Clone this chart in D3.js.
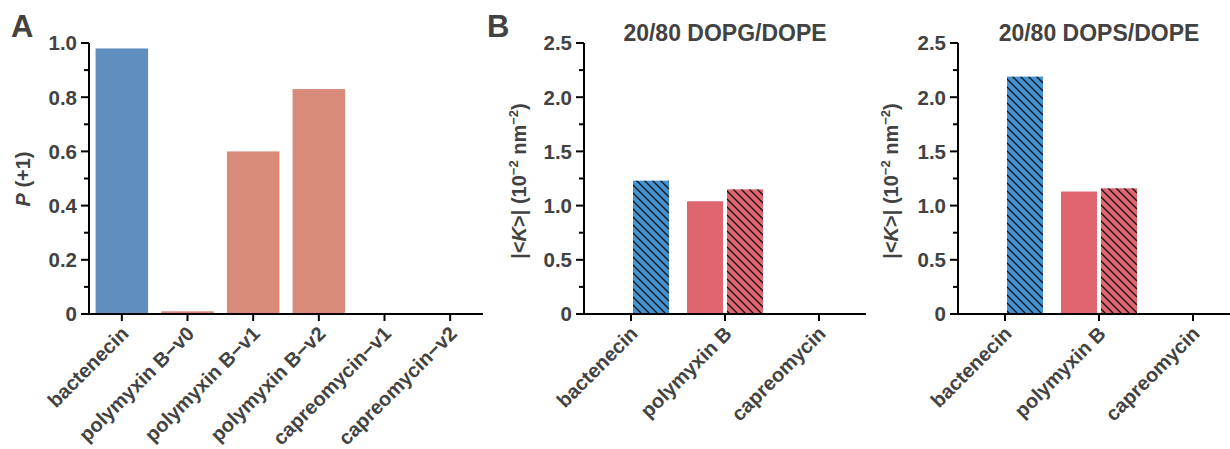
<!DOCTYPE html>
<html><head><meta charset="utf-8">
<script src="https://cdn.jsdelivr.net/npm/d3@7"></script>
<style>
body{margin:0;background:#fff;}
svg text{font-family:"Liberation Sans",Arial,Helvetica,sans-serif;font-weight:bold;fill:#424242;}
</style></head>
<body><svg id="c" width="1230" height="449"></svg>
<script>
// Panel A data
const catsA = ["bactenecin","polymyxin B\u2212v0","polymyxin B\u2212v1","polymyxin B\u2212v2","capreomycin\u2212v1","capreomycin\u2212v2"];
const valsA = [0.98, 0.01, 0.60, 0.83, 0, 0];
const groupA = ["blue","salmon","salmon","salmon","salmon","salmon"];
const ticksA = [0,0.2,0.4,0.6,0.8,1.0];
// Panel B data
const catsB = ["bactenecin","polymyxin B","capreomycin"];
const dopgSolid = [0, 1.04, 0];
const dopgHatch = [1.23, 1.15, 0];
const dopsSolid = [0, 1.13, 0];
const dopsHatch = [2.19, 1.16, 0];
const ticksB = [0,0.5,1.0,1.5,2.0,2.5];
const titlesB = ["20/80 DOPG/DOPE","20/80 DOPS/DOPE"];

const svg = d3.select("#c");
const colA = {blue:"#5f8fbc", salmon:"#d98b7a"};
const colB = {blue:"#4393d3", red:"#df6570"};

const defs = svg.append("defs");
["blue","red"].forEach(k=>{
  const p = defs.append("pattern").attr("id","hatch-"+k).attr("patternUnits","userSpaceOnUse")
    .attr("width",8).attr("height",8);
  p.append("rect").attr("width",8).attr("height",8).attr("fill",colB[k]);
  p.append("path").attr("d","M-2,-2L10,10M-2,6L2,10M6,-2L10,2").attr("stroke","#111").attr("stroke-width",1.3);
});

const y0 = 314, y1 = 43;
const fmt = v => v===0 ? "0" : v.toFixed(1);

function axes(g, x, y, ticks, xLeft, xRight){
  const yMax = ticks[ticks.length-1];
  const ax = x.range()[0];
  g.append("line").attr("x1",ax).attr("x2",ax).attr("y1",y(yMax)).attr("y2",y(0))
    .attr("stroke","#000").attr("stroke-width",2);
  g.append("line").attr("x1",xLeft).attr("x2",xRight).attr("y1",y(0)).attr("y2",y(0))
    .attr("stroke","#000").attr("stroke-width",2);
  ticks.forEach(t=>{
    g.append("line").attr("x1",ax-8).attr("x2",ax).attr("y1",y(t)).attr("y2",y(t)).attr("stroke","#000").attr("stroke-width",2);
    g.append("text").attr("x",ax-12).attr("y",y(t)).attr("dy","0.36em").attr("text-anchor","end")
      .style("font-size","20.5px").text(fmt(t));
  });
  for(let i=0;i<ticks.length-1;i++){
    const m = (ticks[i]+ticks[i+1])/2;
    g.append("line").attr("x1",ax-5).attr("x2",ax).attr("y1",y(m)).attr("y2",y(m)).attr("stroke","#000").attr("stroke-width",2);
  }
  x.domain().forEach(c=>{
    const cx = x(c)+x.bandwidth()/2;
    g.append("line").attr("x1",cx).attr("x2",cx).attr("y1",y(0)).attr("y2",y(0)+7).attr("stroke","#000").attr("stroke-width",2);
    g.append("text").attr("transform",`translate(${cx+3},${y(0)+16}) rotate(-45)`)
      .attr("text-anchor","end").attr("dy","0.35em").style("font-size","20px").text(c);
  });
}

// Panel A
{
  const g = svg.append("g");
  const x = d3.scaleBand().domain(catsA).range([89,483]).paddingInner(0.2).paddingOuter(0.1);
  const y = d3.scaleLinear().domain([0,1]).range([y0,y1]);
  g.selectAll("rect.bar").data(catsA).join("rect")
    .attr("x",d=>x(d)).attr("width",x.bandwidth())
    .attr("y",(d,i)=>y(valsA[i])).attr("height",(d,i)=>y(0)-y(valsA[i]))
    .attr("fill",(d,i)=>colA[groupA[i]]);
  axes(g,x,y,ticksA,81,483);
  g.append("text").attr("transform","translate(30,179) rotate(-90)").attr("text-anchor","middle")
    .style("font-size","20px").html('<tspan font-style="italic">P</tspan> (+1)');
  svg.append("text").attr("x",11).attr("y",37).style("font-size","31px").text("A");
}

// Panel B
[[584,866,dopgSolid,dopgHatch,520],[958,1240,dopsSolid,dopsHatch,892]].forEach((cfg,pi)=>{
  const [xa,xb,solid,hatch,lx] = cfg;
  const g = svg.append("g");
  const x = d3.scaleBand().domain(catsB).range([xa,xb]);
  const y = d3.scaleLinear().domain([0,2.5]).range([y0,y1]);
  const w = 36, gap = 2;
  const cx = d => x(d)+x.bandwidth()/2;
  g.selectAll("rect.s").data(catsB).join("rect")
    .attr("x",d=>cx(d)-gap-w).attr("width",w)
    .attr("y",(d,i)=>y(solid[i])).attr("height",(d,i)=>y(0)-y(solid[i]))
    .attr("fill",(d,i)=> i===0 ? colB.blue : colB.red);
  g.selectAll("rect.h").data(catsB).join("rect")
    .attr("x",d=>cx(d)+gap).attr("width",w)
    .attr("y",(d,i)=>y(hatch[i])).attr("height",(d,i)=>y(0)-y(hatch[i]))
    .attr("fill",(d,i)=> i===0 ? "url(#hatch-blue)" : "url(#hatch-red)");
  axes(g,x,y,ticksB,xa-7,Math.min(xb,1230));
  g.append("text").attr("x",(xa+xb)/2).attr("y",41).attr("text-anchor","middle").style("font-size","23px").text(titlesB[pi]);
  g.append("text").attr("transform",`translate(${lx+6},181) rotate(-90)`).attr("text-anchor","middle")
    .style("font-size","20px")
    .html('|&lt;<tspan font-style="italic">K</tspan>&gt;| (10<tspan dy="-8" font-size="13px">\u22122</tspan><tspan dy="8"> nm</tspan><tspan dy="-8" font-size="13px">\u22122</tspan><tspan dy="8">)</tspan>');
});
svg.append("text").attr("x",487).attr("y",37).style("font-size","31px").text("B");
</script></body></html>
